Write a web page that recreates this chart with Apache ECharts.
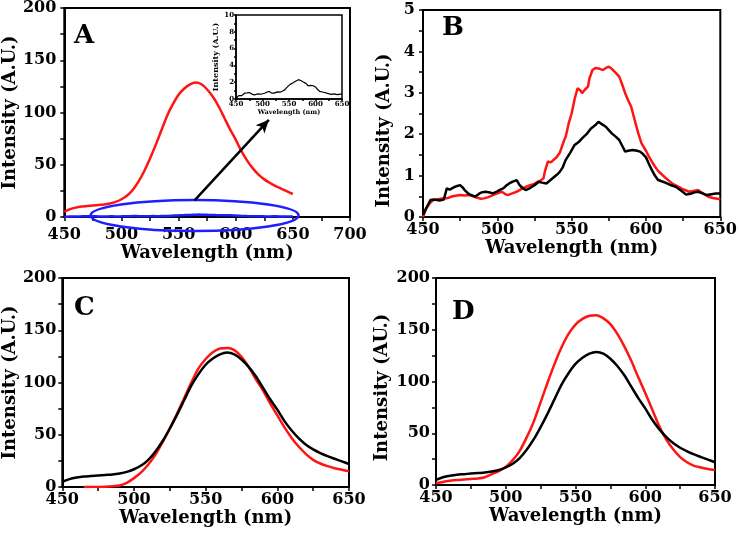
<!DOCTYPE html>
<html>
<head>
<meta charset="utf-8">
<script src="https://cdn.jsdelivr.net/npm/echarts@6/dist/echarts.min.js"></script>
<style>html,body{margin:0;padding:0;background:#fff}#c{width:740px;height:534px}</style>
</head>
<body>
<div id="c"></div>
<script>
// wavelength grid (nm) for smooth spectra
const wl = [450,455,460,465,470,475,480,485,490,495,500,505,510,515,520,525,530,535,540,545,550,555,560,565,570,575,580,585,590,595,600,605,610,615,620,625,630,635,640,645,650];
// reference spectrum (red in A, black in C and D)
const refCurve = [5,7.5,9,10,10.5,11,11.5,12,13,14.5,17,20.5,26,34,44,56,69,83,97,108,117,123,127,128.6,127,122,115,106,95,84,74,63,54,46.5,40.5,36,32.5,29.5,27,24.5,22];
// panel C red
const cRed = [null,null,null,0,0,0,0.3,0.8,1.5,4,8.5,14,21.5,31,43,56,70,85,100,113.5,122.5,129,132.5,133,131,124.5,115,103,92.5,80,68.5,57,47,38.5,31.5,26,22.5,20,18,16.5,15];
// panel D red
const dRed = [1.6,3,4,4.8,5.3,5.8,6.3,7.5,10.5,13.5,17.5,24,33,46,61,80,99,117,133,146,155,160.5,163.5,164,161,155.5,146,134,120,104,89,73,57,44,34.5,27,22,18.5,17,15.5,14.5];
// panel B (noisy) spectra [nm, intensity]
const bRed = [[450,0],[452,0.2],[455,0.35],[457,0.41],[460,0.43],[463,0.45],[466,0.45],[470,0.5],[475,0.53],[478,0.52],[481,0.53],[484,0.5],[486,0.47],[489,0.44],[491,0.45],[494,0.48],[497,0.53],[500,0.57],[503,0.61],[505,0.56],[507,0.53],[510,0.57],[513,0.61],[515,0.65],[517,0.69],[520,0.74],[522,0.77],[525,0.8],[527,0.85],[529,0.88],[531,0.93],[532,1.1],[534,1.34],[536,1.32],[537,1.3],[540,1.45],[542,1.55],[545,1.86],[546,1.94],[548,2.26],[550,2.5],[552,2.85],[554,3.11],[556,3.05],[557,2.99],[559,3.08],[561,3.15],[562,3.35],[564,3.55],[566,3.6],[567,3.63],[569,3.58],[571,3.55],[573,3.6],[575,3.63],[577,3.58],[578,3.55],[580,3.47],[582,3.39],[584,3.2],[586,2.99],[588,2.82],[590,2.67],[593,2.26],[595,2.0],[597,1.78],[600,1.6],[602,1.46],[604,1.34],[606,1.22],[608,1.12],[610,1.05],[613,0.95],[615,0.89],[618,0.8],[622,0.73],[625,0.67],[629,0.61],[632,0.63],[635,0.65],[638,0.58],[642,0.49],[645,0.46],[650,0.43]];
const bBlack = [[450,0.05],[452,0.2],[455,0.41],[458,0.42],[461,0.4],[464,0.42],[466,0.69],[468,0.66],[469,0.65],[471,0.72],[473,0.75],[475,0.77],[477,0.7],[478,0.65],[481,0.55],[485,0.49],[488,0.57],[490,0.6],[492,0.61],[495,0.59],[497,0.57],[500,0.62],[502,0.66],[504,0.69],[506,0.76],[508,0.81],[510,0.85],[513,0.89],[515,0.77],[517,0.7],[519,0.65],[522,0.7],[525,0.77],[528,0.85],[530,0.83],[533,0.81],[535,0.87],[537,0.93],[540,1.02],[542,1.09],[544,1.2],[546,1.38],[549,1.55],[552,1.74],[555,1.82],[557,1.9],[560,2.0],[563,2.14],[566,2.22],[568,2.3],[570,2.25],[573,2.18],[575,2.1],[577,2.02],[580,1.93],[582,1.86],[584,1.72],[586,1.58],[588,1.6],[591,1.62],[594,1.6],[596,1.58],[598,1.52],[600,1.44],[602,1.28],[604,1.13],[606,1.0],[608,0.9],[610,0.87],[613,0.83],[616,0.78],[620,0.73],[624,0.63],[627,0.54],[630,0.56],[633,0.6],[635,0.61],[638,0.57],[641,0.53],[644,0.55],[647,0.57],[650,0.57]];
// annotation in panel A: ellipse [center nm, center intensity, radius nm, radius intensity], arrow from/to
const ellipseA = [564, 1.4, 91, 14.8];
const arrowFrom = [564, 16];
const arrowTo = [629, 93];
const panelLetters = ['A','B','C','D'];

const pair = (ys) => wl.map((x,i) => [x, ys[i]]);
const FONT = 'DejaVu Serif';
const RED = '#ff1414', BLACK = '#000', BLUE = '#1e1eff';

function xAx(gi, max, o) {
  o = o || {};
  return {
    type:'value', gridIndex:gi, min:450, max:max, interval:50,
    name: 'Wavelength (nm)', nameLocation:'middle', nameGap:o.gap||22,
    nameTextStyle:{fontFamily:FONT, fontWeight:'bold', fontSize:o.nfs||18, color:'#000'},
    axisLine:{show:true, onZero:false, lineStyle:{color:'#000', width:o.lw||2}},
    axisTick:{show:true, inside:false, length:o.tl||4, lineStyle:{color:'#000', width:1.5}},
    minorTick:{show:true, splitNumber:2, length:o.tl||4, lineStyle:{color:'#000', width:1.5}},
    splitLine:{show:false},
    axisLabel:{fontFamily:FONT, fontWeight:'bold', fontSize:o.fs||16, color:'#000', margin:o.m||6}
  };
}
function yAx(gi, max, interval, o) {
  o = o || {};
  return {
    type:'value', gridIndex:gi, min:0, max:max, interval:interval,
    name:o.name||'Intensity (A.U.)', nameLocation:'middle', nameGap:o.gap||40,
    nameTextStyle:{fontFamily:FONT, fontWeight:'bold', fontSize:o.nfs||18, color:'#000', padding:o.pad||0},
    axisLine:{show:true, onZero:false, lineStyle:{color:'#000', width:o.lw||2}},
    axisTick:{show:true, inside:false, length:o.tl||4, lineStyle:{color:'#000', width:1.5}},
    minorTick:{show:true, splitNumber:2, length:o.tl||4, lineStyle:{color:'#000', width:1.5}},
    splitLine:{show:false},
    axisLabel:{fontFamily:FONT, fontWeight:'bold', fontSize:o.fs||16, color:'#000', margin:o.m||7}
  };
}
const gridBase = {show:true, borderColor:'#000', borderWidth:2, backgroundColor:'transparent'};
const titlePos = [[74,23],[442,15],[74,295],[452,299]];

const option = {
  animation:false,
  backgroundColor:'#fff',
  title: panelLetters.map((t,i) => ({text:t, left:titlePos[i][0], top:titlePos[i][1], padding:0,
    textStyle:{fontFamily:FONT, fontWeight:'bold', fontSize:26, color:'#000'}})),
  grid:[
    Object.assign({left:61, top:8, width:289, height:209}, gridBase),
    Object.assign({left:423, top:10, width:299, height:207}, gridBase),
    Object.assign({left:61, top:278, width:288, height:209}, gridBase),
    Object.assign({left:436, top:278, width:279, height:207}, gridBase),
    {show:true, left:236, top:15, width:106, height:84, borderColor:'#000', borderWidth:1.5, backgroundColor:'#fff', z:3}
  ],
  xAxis:[
    xAx(0, 700, {m:10, gap:24}),
    xAx(1, 650, {m:5, gap:16}),
    xAx(2, 650, {m:5, gap:22}),
    xAx(3, 650, {m:5, gap:22}),
    Object.assign(xAx(4, 650, {fs:7, nfs:6.5, m:2, gap:8, lw:1.5, tl:2}), {z:4})
  ],
  yAxis:[
    yAx(0, 200, 50, {gap:40, m:8}),
    yAx(1, 5, 1, {gap:30, m:8, pad:[0,34,0,0]}),
    yAx(2, 200, 50, {gap:40, m:6}),
    yAx(3, 200, 50, {gap:45, m:6, name:'Intensity (AU.)', pad:[0,12,0,0]}),
    Object.assign(yAx(4, 10, 2, {fs:7, nfs:8, m:2, gap:7, lw:1.5, tl:2}), {z:4})
  ],
  series:[
    {type:'line', xAxisIndex:0, yAxisIndex:0, data:pair(refCurve), smooth:0.3, showSymbol:false,
      lineStyle:{color:RED, width:2.5}, z:3},
    {type:'line', xAxisIndex:0, yAxisIndex:0, data:bBlack, showSymbol:false,
      lineStyle:{color:BLUE, width:2.5}, z:3,
      markLine:{silent:true, symbol:['none','arrow'], symbolSize:[9,13], animation:false,
        lineStyle:{color:'#000', width:2.5, type:'solid'}, label:{show:false},
        data:[[{coord:arrowFrom},{coord:arrowTo}]]}},
    {type:'custom', xAxisIndex:0, yAxisIndex:0, data:[ellipseA], clip:false, z:4,
      renderItem:function(params, api){
        const c = api.coord([api.value(0), api.value(1)]);
        const p = api.coord([api.value(0)+api.value(2), api.value(1)+api.value(3)]);
        return {type:'ellipse', shape:{cx:c[0], cy:c[1], rx:Math.abs(p[0]-c[0]), ry:Math.abs(c[1]-p[1])},
          style:{fill:'none', stroke:BLUE, lineWidth:2.5}};
      }},
    {type:'line', xAxisIndex:1, yAxisIndex:1, data:bRed, showSymbol:false, lineStyle:{color:RED, width:2.5}},
    {type:'line', xAxisIndex:1, yAxisIndex:1, data:bBlack, showSymbol:false, lineStyle:{color:BLACK, width:2.5}},
    {type:'line', xAxisIndex:2, yAxisIndex:2, data:pair(cRed), smooth:0.3, showSymbol:false, lineStyle:{color:RED, width:2.5}},
    {type:'line', xAxisIndex:2, yAxisIndex:2, data:pair(refCurve), smooth:0.3, showSymbol:false, lineStyle:{color:BLACK, width:2.5}},
    {type:'line', xAxisIndex:3, yAxisIndex:3, data:pair(dRed), smooth:0.3, showSymbol:false, lineStyle:{color:RED, width:2.5}},
    {type:'line', xAxisIndex:3, yAxisIndex:3, data:pair(refCurve), smooth:0.3, showSymbol:false, lineStyle:{color:BLACK, width:2.5}},
    {type:'line', xAxisIndex:4, yAxisIndex:4, data:bBlack, showSymbol:false, lineStyle:{color:BLACK, width:1.2}, z:5}
  ]
};
const chart = echarts.init(document.getElementById('c'), null, {renderer:'canvas'});
chart.setOption(option);
</script>
</body>
</html>
